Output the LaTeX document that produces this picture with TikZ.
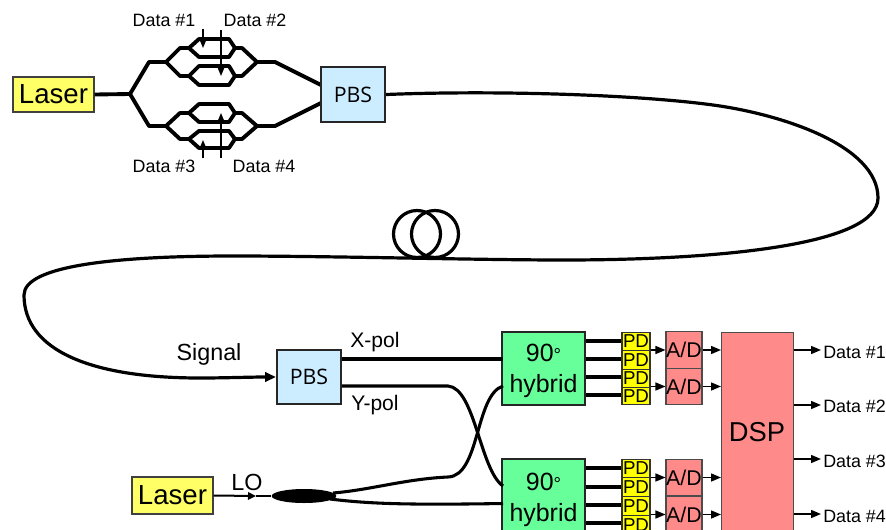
\documentclass[tikz,border=0pt]{standalone}
\usepackage{fontspec}
\setmainfont{Liberation Sans}
\newfontfamily\pbsfont{Open Sans}
\usetikzlibrary{arrows.meta,shapes.geometric}
\definecolor{cyanbox}{HTML}{CCECFF}
\definecolor{yelbox}{HTML}{FFFF66}
\definecolor{pdyel}{HTML}{FFFF00}
\definecolor{greenbox}{HTML}{66FF99}
\definecolor{redbox}{HTML}{FF8A8A}
\newcommand{\smalldeg}{{\fontsize{14pt}{14pt}\selectfont °}}
\tikzset{
  fiber/.style={line width=2.9pt,line join=round,black},
  thinfiber/.style={line width=2.3pt,black},
  sig/.style={line width=1.1pt,black,-{Triangle[length=7.5pt,width=6pt]}},
  databar/.style={line width=1pt,black,-{Triangle[length=7pt,width=5.5pt]}},
  lbl/.style={font=\fontsize{13.4pt}{15pt}\selectfont,inner sep=0pt},
  mid/.style={font=\fontsize{17.5pt}{19pt}\selectfont,inner sep=0pt},
  pol/.style={font=\fontsize{15.8pt}{18pt}\selectfont,inner sep=0pt},
  laserbox/.style={draw=black!75,line width=0.9pt,fill=yelbox,inner sep=0pt,font=\fontsize{20.7pt}{22pt}\selectfont},
  pbsbox/.style={draw=black!85,line width=1.7pt,fill=cyanbox,inner sep=0pt,font=\pbsfont\fontsize{16pt}{18pt}\selectfont},
  hybbox/.style={draw=black!85,line width=1.7pt,fill=greenbox,inner sep=0pt,align=center,font=\fontsize{18.7pt}{23.5pt}\selectfont},
  pdbox/.style={draw=black!80,line width=0.8pt,fill=pdyel,inner sep=0pt,font=\fontsize{14pt}{15pt}\selectfont},
  adbox/.style={draw=black!70,line width=0.8pt,fill=redbox,inner sep=0pt,font=\fontsize{16pt}{18pt}\selectfont},
  dspbox/.style={draw=black!70,line width=0.8pt,fill=redbox,inner sep=0pt,font=\fontsize{20.5pt}{22pt}\selectfont},
}
\begin{document}
\begin{tikzpicture}[x=0.75pt,y=-0.75pt]
\useasboundingbox (0,0) rectangle (886,529);
\clip (0,0) rectangle (886,529);
% coordinates
\coordinate (spl) at (130,94);
% Modulator (top)
\draw[fiber] (spl) -- (149,62) -- (166,62) -- (180,48) -- (189,48) -- (199,39) -- (229,39) -- (235,48) -- (242,48) -- (257,62) -- (275,62) -- (321,85);
\draw[fiber] (166,62) -- (180,76) -- (189,76) -- (199,66) -- (229,66) -- (235,76) -- (242,76) -- (257,62);
\draw[fiber] (189,48) -- (199,57) -- (229,57) -- (235,48);
\draw[fiber] (189,76) -- (199,85) -- (229,85) -- (235,76);
\draw[fiber] (spl) -- (149,126) -- (166,126) -- (180,113) -- (189,113) -- (199,104) -- (229,104) -- (235,113) -- (242,113) -- (257,126) -- (275,126) -- (321,103);
\draw[fiber] (166,126) -- (180,139) -- (189,139) -- (199,131) -- (229,131) -- (235,139) -- (242,139) -- (257,126);
\draw[fiber] (189,113) -- (199,122) -- (229,122) -- (235,113);
\draw[fiber] (189,139) -- (199,148) -- (229,148) -- (235,139);
% Data bars
\coordinate (d1a) at (203,29); \coordinate (d1b) at (203,48);
\coordinate (d2a) at (221,30); \coordinate (d2b) at (221,76);
\coordinate (d3a) at (203,158); \coordinate (d3b) at (203,140);
\coordinate (d4a) at (221,158); \coordinate (d4b) at (221,113);
\draw[databar] (d1a) -- (d1b);
\draw[databar] (d2a) -- (d2b);
\draw[databar] (d3a) -- (d3b);
\draw[databar] (d4a) -- (d4b);
% Top nodes
\node[laserbox,minimum width=60.75pt,minimum height=26.25pt] (las1) at (53.5,94.5) {Laser};
\node[pbsbox,minimum width=48pt,minimum height=41.25pt] (pbs1) at (353,94.5) {PBS};
\draw[fiber] (las1.east) -- (spl);
\node[lbl] (t1) at (164,20) {Data \#1};
\node[lbl] (t2) at (255,20) {Data \#2};
\node[lbl] (t3) at (164,166) {Data \#3};
\node[lbl] (t4) at (264,166) {Data \#4};
% loops
\coordinate (c1) at (417,234);
\coordinate (c2) at (435,234);
\draw[line width=2.4pt] (c1) circle [radius=23.5];
\draw[line width=2.4pt] (c2) circle [radius=23.5];
% Bottom nodes
\node[pbsbox,minimum width=48pt,minimum height=40.5pt] (pbs2) at (309,377) {PBS};
\node[laserbox,minimum width=60.75pt,minimum height=27.75pt] (las2) at (172.5,495.5) {Laser};
\node[mid] (sg) at (209,354) {Signal};
\node[pol] (xp) at (375,342) {X-pol};
\node[pol] (yp) at (375,405) {Y-pol};
\node[lbl,font=\fontsize{17.5pt}{19pt}\selectfont] (lo) at (247,482) {LO};
\node[hybbox,minimum width=62.25pt,minimum height=54.75pt] (h1) at (543.5,368.5) {\rule{0pt}{17pt}90\smalldeg\\hybrid};
\node[hybbox,minimum width=62.25pt,minimum height=54.75pt] (h2) at (543.5,495.5) {\rule{0pt}{20pt}90\smalldeg\\hybrid};
% long fiber
\draw[line width=2.4pt,black,-{Triangle[length=8pt,width=7pt]}] (pbs1.east)
  .. controls (500,90) and (640,95) .. (713,105)
  .. controls (780,114) and (878,145) .. (878,198)
  .. controls (878,245) and (720,260) .. (563,260)
  .. controls (480,260) and (330,256) .. (233,256)
  .. controls (120,256) and (24,265) .. (24,295)
  .. controls (24,350) and (90,378) .. (200,378)
  .. controls (225,378) and (250,377) .. (pbs2.west);
% coupler
\node[fill=black,draw=none,ellipse,minimum width=48.5pt,minimum height=10.5pt,inner sep=0pt] (cp) at (304,496) {};
\coordinate (lotip) at (256,496);
\draw[line width=1.5pt,black,-{Triangle[length=6pt,width=5.5pt]}] (las2.east) -- (lotip);
\draw[line width=1.5pt] (lotip) -- (cp.west);
\coordinate (hx) at (503,359); \coordinate (hy) at (503,486);
\coordinate (hlo1) at (503,386); \coordinate (hlo2) at (503,503.5);
\draw[thinfiber] (333,493) .. controls (370,490) and (405,479) .. (448,477)
   .. controls (480,476) and (475,395) .. (hlo1);
\draw[thinfiber] (330,499) .. controls (370,504) and (410,505) .. (hlo2);
\draw[thinfiber] (pbs2.east |- hlo1) -- (448,386) .. controls (475,388) and (480,470) .. (hy);
\draw[thinfiber] (pbs2.east |- hx) -- (hx);
% hybrid outputs
\foreach \y in {341,359} \draw[line width=3.2pt] (586,\y) -- (622,\y);
\foreach \y in {377,395} \draw[line width=2.9pt] (586,\y) -- (622,\y);
\foreach \y in {468,487,505,523} \draw[line width=2.9pt] (586,\y) -- (622,\y);
% PD
\node[pdbox,minimum width=21pt,minimum height=14pt] (p1) at (636,341.5) {PD};
\node[pdbox,minimum width=21pt,minimum height=14pt] (p2) at (636,360) {PD};
\node[pdbox,minimum width=21pt,minimum height=13pt] (p3) at (636,378.5) {PD};
\node[pdbox,minimum width=21pt,minimum height=13pt] (p4) at (636,396) {PD};
\node[pdbox,minimum width=21pt,minimum height=14pt] (p5) at (636,468.5) {PD};
\node[pdbox,minimum width=21pt,minimum height=14pt] (p6) at (636,487) {PD};
\node[pdbox,minimum width=21pt,minimum height=14pt] (p7) at (636,506) {PD};
\node[pdbox,minimum width=21pt,minimum height=14pt] (p8) at (636,525) {PD};
% A/D
\node[adbox,minimum width=27pt,minimum height=27.5pt] (a1) at (684,350) {A/D};
\node[adbox,minimum width=27pt,minimum height=27.5pt] (a2) at (684,386.5) {A/D};
\node[adbox,minimum width=27pt,minimum height=27.5pt] (a3) at (684,477.5) {A/D};
\node[adbox,minimum width=27pt,minimum height=27.5pt] (a4) at (684,514.5) {A/D};
% DSP
\node[dspbox,minimum width=54pt,minimum height=165pt,anchor=north west] (dsp) at (721,332) {};
\node[dspbox,draw=none,fill=none] (dsptxt) at (757,432) {DSP};
% signal arrows
\foreach \a in {1,2,3,4} {
  \draw[sig] (p1.east |- a\a.west) -- (a\a.west);
  \draw[sig] (a\a.east) -- (dsp.west |- a\a.east);
}
\node[lbl,anchor=west] (o1) at (823,352) {Data \#1};
\node[lbl,anchor=west] (o2) at (823,406.5) {Data \#2};
\node[lbl,anchor=west] (o3) at (823,461) {Data \#3};
\node[lbl,anchor=west] (o4) at (823,516) {Data \#4};
\coordinate (e1) at (821,350); \coordinate (e2) at (821,405);
\coordinate (e3) at (821,459); \coordinate (e4) at (821,514);
\draw[sig] (dsp.east |- e1) -- (e1);
\draw[sig] (dsp.east |- e2) -- (e2);
\draw[sig] (dsp.east |- e3) -- (e3);
\draw[sig] (dsp.east |- e4) -- (e4);
\end{tikzpicture}
\end{document}
